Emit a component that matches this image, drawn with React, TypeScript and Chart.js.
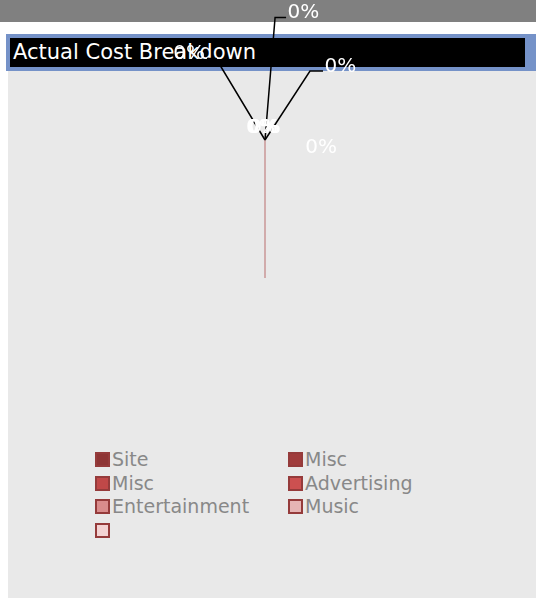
import React, { useEffect, useRef } from 'react';
import { Chart, registerables } from 'chart.js';

Chart.register(...registerables);

// ---- data ----
const titleText = 'Actual Cost Breakdown';
const categories = ['Site', 'Misc', 'Misc', 'Advertising', 'Entertainment', 'Music', ''];
const costValues = [0, 0, 0, 0, 0, 0, 0];
const sliceColors = ['#8e3535', '#a03c3c', '#c04848', '#cc5050', '#d98c8c', '#e6b4b4', '#f3d3d3'];
const sliceBorder = '#953b3b';
const zeroLineColor = '#d1abab';

// label placement style (relative to pie centre / radius)
type Placement =
  | { kind: 'out'; angle: number; dist: number; arm: number }
  | { kind: 'in'; dx: number; dy: number };
const labelPlacements: Placement[] = [
  { kind: 'out', angle: 4.7, dist: 0.891, arm: 11 },
  { kind: 'out', angle: 33.1, dist: 0.597, arm: 13 },
  { kind: 'out', angle: -31, dist: 0.689, arm: -9 },
  { kind: 'in', dx: 0.406, dy: 0.094 },
  { kind: 'in', dx: -0.022, dy: -0.051 },
  { kind: 'in', dx: -0.011, dy: -0.051 },
  { kind: 'in', dx: 0.0, dy: -0.051 },
];

const FONT = '"DejaVu Sans", Verdana, sans-serif';

const zeroPiePlugin = {
  id: 'zeroPie',
  afterDatasetsDraw(chart: any) {
    const meta = chart.getDatasetMeta(0);
    const vals = chart.data.datasets[0].data as number[];
    const total = vals.reduce((a: number, b: number) => a + b, 0);
    const ctx: CanvasRenderingContext2D = chart.ctx;
    ctx.save();
    // zero-width slices: draw their edge as a line
    meta.data.forEach((arc: any) => {
      const p = arc.getProps(['x', 'y', 'startAngle', 'outerRadius', 'circumference'], true);
      if (p.circumference === 0) {
        ctx.beginPath();
        ctx.strokeStyle = zeroLineColor;
        ctx.lineWidth = 2;
        ctx.moveTo(p.x, p.y);
        ctx.lineTo(p.x + p.outerRadius * Math.cos(p.startAngle), p.y + p.outerRadius * Math.sin(p.startAngle));
        ctx.stroke();
      }
    });
    // percentage labels
    ctx.font = '20px ' + FONT;
    ctx.textBaseline = 'alphabetic';
    meta.data.forEach((arc: any, i: number) => {
      const p = arc.getProps(['x', 'y', 'outerRadius'], true);
      const pct = total > 0 ? Math.round((vals[i] / total) * 100) : 0;
      const text = pct + '%';
      const pl = labelPlacements[i % labelPlacements.length];
      const R = p.outerRadius;
      if (pl.kind === 'out') {
        const a = (pl.angle * Math.PI) / 180;
        const ex = p.x + pl.dist * R * Math.sin(a);
        const ey = p.y - pl.dist * R * Math.cos(a);
        ctx.beginPath();
        ctx.strokeStyle = '#000000';
        ctx.lineWidth = 1.5;
        ctx.moveTo(p.x, p.y);
        ctx.lineTo(ex, ey);
        ctx.lineTo(ex + pl.arm, ey);
        ctx.stroke();
        ctx.fillStyle = '#ffffff';
        if (pl.arm >= 0) {
          ctx.textAlign = 'left';
          ctx.fillText(text, ex + pl.arm + 1.5, ey + 1);
        } else {
          ctx.textAlign = 'right';
          ctx.fillText(text, ex + pl.arm - 2, ey + 1);
        }
      } else {
        ctx.fillStyle = '#ffffff';
        ctx.textAlign = 'center';
        ctx.fillText(text, p.x + pl.dx * R, p.y + pl.dy * R);
      }
    });
    ctx.restore();
  },
};

function Legend() {
  return (
    <div
      style={{
        position: 'absolute',
        left: 95,
        top: 448,
        display: 'grid',
        gridTemplateColumns: '193px 193px',
        gridAutoRows: '23.5px',
      }}
    >
      {categories.map((c, i) => (
        <div key={i} style={{ display: 'flex', alignItems: 'center' }}>
          <div
            style={{
              width: 15,
              height: 15,
              boxSizing: 'border-box',
              border: '2px solid ' + sliceBorder,
              background: sliceColors[i],
              marginRight: 2,
              flex: '0 0 auto',
            }}
          />
          <span style={{ font: '19px ' + FONT, color: '#888888', lineHeight: 1, whiteSpace: 'nowrap' }}>{c}</span>
        </div>
      ))}
    </div>
  );
}

export default function App() {
  const ref = useRef<HTMLCanvasElement>(null);
  useEffect(() => {
    if (!ref.current) return;
    const chart = new Chart(ref.current, {
      type: 'pie',
      data: {
        labels: categories,
        datasets: [
          {
            data: costValues,
            backgroundColor: sliceColors,
            borderColor: sliceBorder,
            borderWidth: 0,
          },
        ],
      },
      options: {
        responsive: false,
        animation: false,
        devicePixelRatio: 1,
        rotation: 180,
        layout: { padding: { left: 127, right: 133, top: 2, bottom: 320 } },
        plugins: {
          legend: { display: false },
          title: { display: false },
          tooltip: { enabled: false },
        },
      },
      plugins: [zeroPiePlugin],
    } as any);
    return () => chart.destroy();
  }, []);

  return (
    <div style={{ position: 'absolute', left: 0, top: 0, width: 536, height: 598, background: '#ffffff', overflow: 'hidden' }}>
      <div style={{ position: 'absolute', left: 0, top: 0, width: 536, height: 22, background: '#808080' }} />
      <div style={{ position: 'absolute', left: 8, top: 71, width: 528, height: 527, background: '#e9e9e9' }} />
      <div style={{ position: 'absolute', left: 6, top: 34, width: 530, height: 37, background: '#7592c8' }} />
      <div
        style={{
          position: 'absolute',
          left: 10,
          top: 38,
          width: 515,
          height: 29,
          background: '#000000',
          color: '#ffffff',
          font: '21px ' + FONT,
          lineHeight: '29px',
          paddingLeft: 3,
          boxSizing: 'border-box',
          whiteSpace: 'nowrap',
        }}
      >
        {titleText}
      </div>
      <Legend />
      <canvas
        ref={ref}
        width={536}
        height={598}
        style={{ position: 'absolute', left: 0, top: 0, width: 536, height: 598 }}
      />
    </div>
  );
}
